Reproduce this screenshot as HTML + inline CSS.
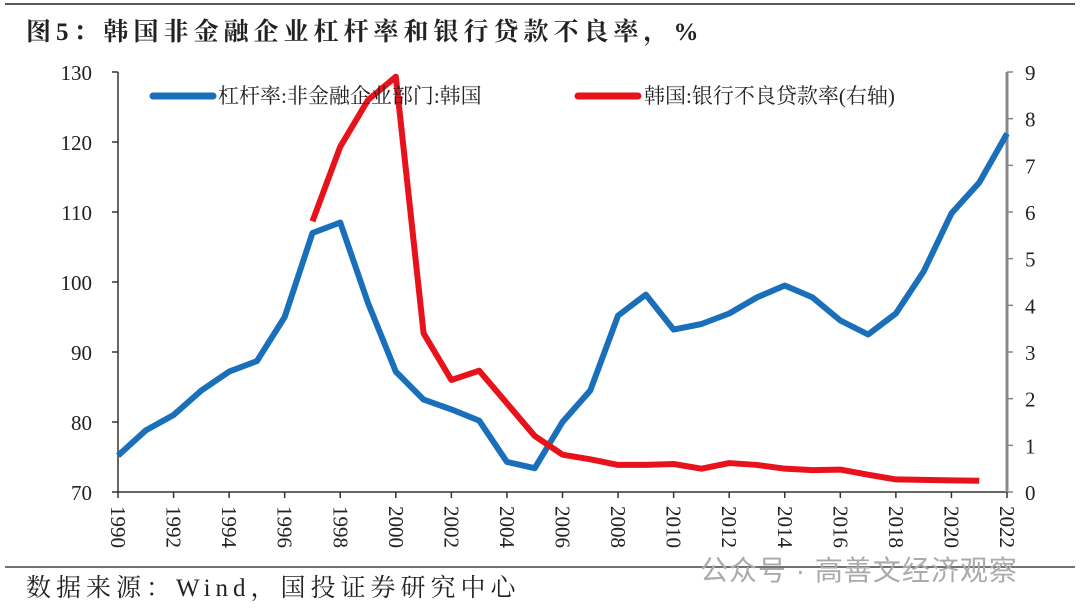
<!DOCTYPE html>
<html><head><meta charset="utf-8"><style>
body{margin:0;background:#fff;width:1080px;height:612px;overflow:hidden;font-family:"Liberation Serif","Noto Serif CJK SC",serif;}
svg{position:absolute;left:0;top:0}
</style></head><body>
<svg width="1080" height="612" id="c">
<line x1="5" y1="4" x2="1075" y2="4" stroke="#222" stroke-width="1.5"/>
<text x="26" y="40" font-size="25" font-weight="bold" fill="#222" style="letter-spacing:5px">图5：韩国非金融企业杠杆率和银行贷款不良率，%</text>
<line x1="5" y1="567" x2="1075" y2="567" stroke="#444" stroke-width="1.5"/>
<text x="26" y="596" font-size="25" fill="#222" style="letter-spacing:5px">数据来源：Wind，国投证券研究中心</text>
<text x="700" y="580" font-size="28" fill="#aaa" font-family="Liberation Sans,Noto Sans CJK SC,sans-serif" style="letter-spacing:1px">公众号 · 高善文经济观察</text>
<g id="g"></g>
</svg>
<script>
const years=[1990,1991,1992,1993,1994,1995,1996,1997,1998,1999,2000,2001,2002,2003,2004,2005,2006,2007,2008,2009,2010,2011,2012,2013,2014,2015,2016,2017,2018,2019,2020,2021,2022];
const leverage=[75.2,78.8,81,84.5,87.2,88.7,95,107,108.5,97,87.2,83.2,81.8,80.2,74.3,73.4,80,84.5,95.2,98.2,93.2,94,95.5,97.8,99.5,97.8,94.5,92.5,95.5,101.5,109.8,114.2,121.2];
const nplYears=[1997,1998,1999,2000,2001,2002,2003,2004,2005,2006,2007,2008,2009,2010,2011,2012,2013,2014,2015,2016,2017,2018,2019,2020,2021];
const npl=[5.8,7.4,8.4,8.9,3.4,2.4,2.6,1.9,1.2,0.8,0.7,0.58,0.58,0.6,0.5,0.62,0.58,0.5,0.47,0.48,0.37,0.27,0.26,0.25,0.24];
const leftTicks=[70,80,90,100,110,120,130];
const rightTicks=[0,1,2,3,4,5,6,7,8,9];
const X0=118,X1=1007,YT=72,YB=492;
const x=v=>X0+(v-1990)/(2022-1990)*(X1-X0);
const yl=v=>YB-(v-70)/60*(YB-YT);
const yr=v=>YB-v/9*(YB-YT);
const g=document.getElementById('g');
const NS='http://www.w3.org/2000/svg';
function mk(t,a){const e=document.createElementNS(NS,t);for(const k in a)e.setAttribute(k,a[k]);g.appendChild(e);return e;}
let e;
e=mk('line',{x1:X0,y1:YT,x2:X0,y2:YB,stroke:'#333','stroke-width':1.5});


e=mk('line',{x1:X0,y1:YB,x2:X1,y2:YB,stroke:'#333','stroke-width':1.5});


e=mk('line',{x1:X1,y1:YT,x2:X1,y2:YB,stroke:'#888','stroke-width':3});


leftTicks.forEach(v=>{
 mk('line',{x1:X0-6,y1:yl(v),x2:X0,y2:yl(v),stroke:'#333','stroke-width':1.5});
 e=mk('text',{x:X0-26,y:yl(v)+8,'font-size':21,'text-anchor':'end',fill:'#222'});e.textContent=v;
 
 
});
rightTicks.forEach(v=>{
 mk('line',{x1:X1,y1:yr(v),x2:X1+6,y2:yr(v),stroke:'#888','stroke-width':1.5});
 e=mk('text',{x:X1+18,y:yr(v)+8,'font-size':21,fill:'#222'});e.textContent=v;
 
 
});
years.filter(y=>y%2==0).forEach(y=>{
 mk('line',{x1:x(y),y1:YB,x2:x(y),y2:YB+6,stroke:'#333','stroke-width':1.5});
 e=mk('text',{x:0,y:0,'font-size':21,fill:'#222',transform:`translate(${x(y)-7},${YB+14}) rotate(90)`});e.textContent=y;
 
 
});
e=mk('polyline',{points:years.map((y,i)=>x(y)+','+yl(leverage[i])).join(' '),fill:'none',stroke:'#1a6fba','stroke-width':6,'stroke-linejoin':'round'});


e=mk('polyline',{points:nplYears.map((y,i)=>x(y)+','+yr(npl[i])).join(' '),fill:'none',stroke:'#e8121b','stroke-width':6,'stroke-linejoin':'round'});


mk('line',{x1:153,y1:96,x2:213,y2:96,stroke:'#1a6fba','stroke-width':7,'stroke-linecap':'round'});
e=mk('text',{x:218,y:103,'font-size':21,fill:'#222'});e.textContent='杠杆率:非金融企业部门:韩国';


mk('line',{x1:578,y1:96,x2:638,y2:96,stroke:'#e8121b','stroke-width':7,'stroke-linecap':'round'});
e=mk('text',{x:644,y:103,'font-size':21,fill:'#222'});e.textContent='韩国:银行不良贷款率(右轴)';


</script>
</body></html>
